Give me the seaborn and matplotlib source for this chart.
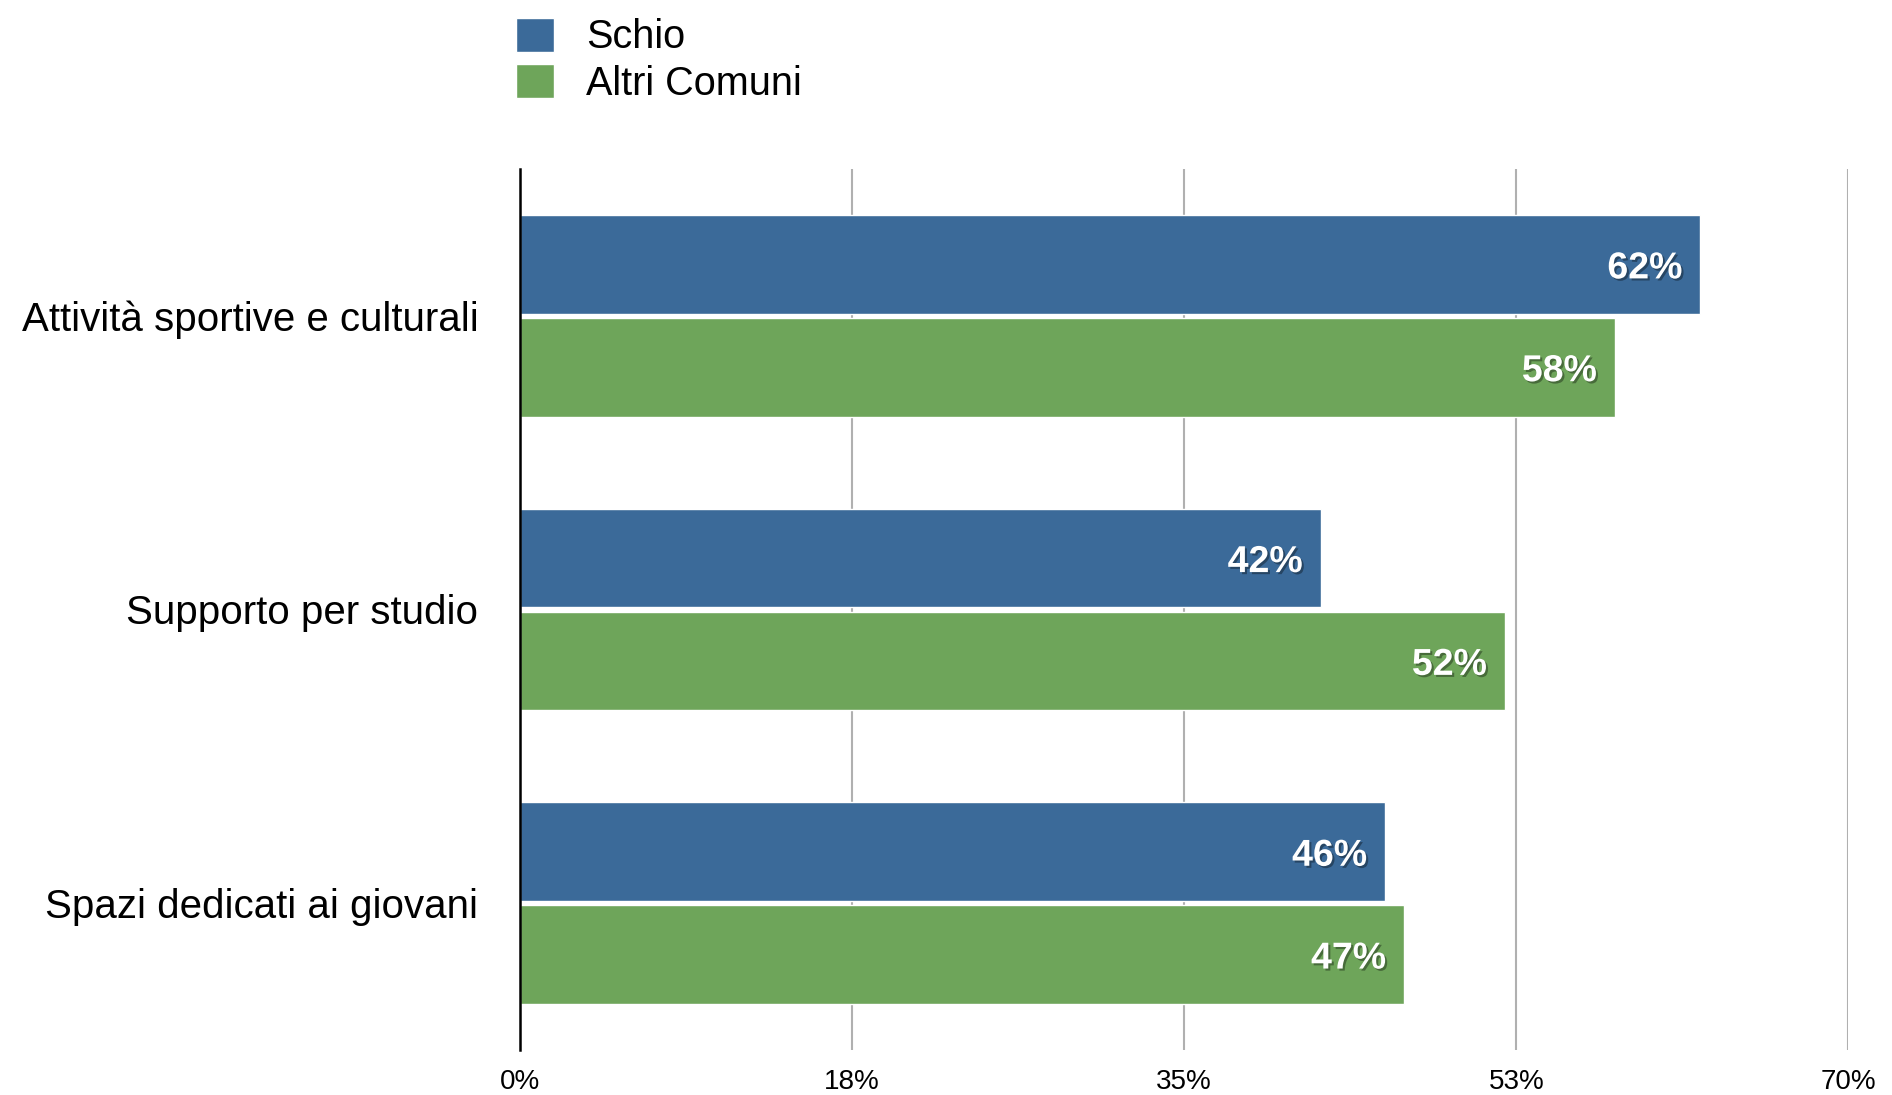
import pandas as pd
import numpy as np
import matplotlib.pyplot as plt
import matplotlib.patheffects as pe
from matplotlib.patches import Patch
import seaborn as sns

# ── Data ─────────────────────────────────────────────────────
categories = ['Attività sportive e culturali', 'Supporto per studio', 'Spazi dedicati ai giovani']
schio = [62.2, 42.2, 45.6]
altri = [57.7, 51.9, 46.6]
series_names = ['Schio', 'Altri Comuni']
xticks = [0, 17.5, 35, 52.5, 70]
xtick_labels = ['0%', '18%', '35%', '53%', '70%']

df = pd.DataFrame({
    'categoria': categories * 2,
    'valore': schio + altri,
    'serie': [series_names[0]] * 3 + [series_names[1]] * 3,
})

colors = {'Schio': '#3B6A99', 'Altri Comuni': '#6EA55A'}

sns.set_style('white')
plt.rcParams['font.family'] = ['Liberation Sans', 'DejaVu Sans']
plt.rcParams['text.color'] = 'black'
plt.rcParams['xtick.color'] = 'black'
plt.rcParams['ytick.color'] = 'black'

fig = plt.figure(figsize=(18.92, 10.95), dpi=100)
ax = fig.add_axes([0.2748, 0.0411, 0.7022, 0.8046])

sns.barplot(data=df, y='categoria', x='valore', hue='serie', palette=colors,
            orient='h', width=0.7, gap=0.04, saturation=1, ax=ax, legend=False)

ax.set_xlim(0, 70)
ax.set_ylim(2.5, -0.5)
ax.set_xticks(xticks)
ax.set_xticklabels(xtick_labels, fontsize=20,
                   family=['Liberation Sans Narrow', 'Liberation Sans', 'DejaVu Sans'])
ax.tick_params(axis='x', length=0, pad=14, labelcolor='black')
ax.tick_params(axis='y', length=0, pad=30, labelsize=29, labelcolor='black')
ax.set_xlabel('')
ax.set_ylabel('')
ax.xaxis.grid(True, color='#B0B0B0', linewidth=1.5)
ax.set_axisbelow(True)
for s in ['top', 'right', 'bottom']:
    ax.spines[s].set_visible(False)
ax.spines['left'].set_color('black')
ax.spines['left'].set_linewidth(1.8)
ax.spines['left'].set_zorder(5)

# value labels inside bar ends
shadow = [pe.withSimplePatchShadow(offset=(1.5, -1.5), shadow_rgbFace='black', alpha=0.35)]
for cont in ax.containers:
    for bar in cont:
        w = bar.get_width()
        ax.annotate(f'{w:.0f}%', (w, bar.get_y() + bar.get_height() / 2),
                    xytext=(-13, 0), textcoords='offset points',
                    ha='right', va='center_baseline', color='white', fontsize=27,
                    fontweight='bold', path_effects=shadow)

handles = [Patch(facecolor=colors[n], label=n) for n in series_names]
fig.legend(handles=handles, loc='upper left', bbox_to_anchor=(0.2625, 1.002),
           frameon=False, fontsize=28.5, handlelength=0.95, handleheight=0.95,
           handletextpad=0.8, labelspacing=0.2, borderpad=0)

plt.savefig('out.png', dpi=100)
plt.close()
